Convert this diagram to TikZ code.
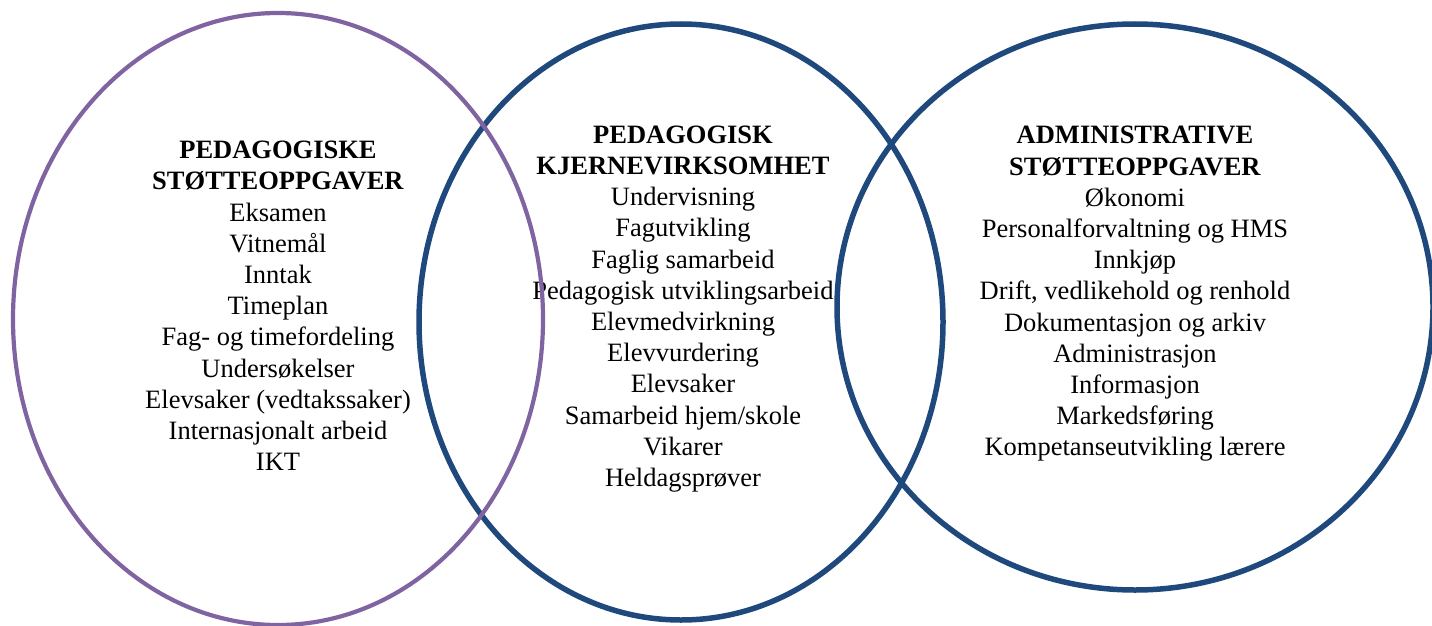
\documentclass[tikz,border=0pt]{standalone}
\usepackage{fontspec}
\setmainfont{Liberation Serif}
\definecolor{vpurple}{RGB}{128,100,162}
\definecolor{vblue}{RGB}{31,73,125}
\tikzset{
  ring/.style={draw, line width=5.5pt},
  block/.style={align=center, inner sep=0pt, font=\fontsize{26.5}{31.2}\selectfont}
}
\begin{document}
\begin{tikzpicture}[x=1pt,y=1pt]
\useasboundingbox (0,0) rectangle (1432,-626);
\node[block] (ltext) at (278,-306) {\textbf{PEDAGOGISKE}\\\textbf{STØTTEOPPGAVER}\\Eksamen\\Vitnemål\\Inntak\\Timeplan\\Fag- og timefordeling\\Undersøkelser\\Elevsaker (vedtakssaker)\\Internasjonalt arbeid\\IKT};
\node[block] (mtext) at (683,-309) {\textbf{PEDAGOGISK}\\\textbf{KJERNEVIRKSOMHET}\\Undervisning\\Fagutvikling\\Faglig samarbeid\\Pedagogisk utviklingsarbeid\\Elevmedvirkning\\Elevvurdering\\Elevsaker\\Samarbeid hjem/skole\\Vikarer\\Heldagsprøver};
\node[block] (rtext) at (1135,-294) {\textbf{ADMINISTRATIVE}\\\textbf{STØTTEOPPGAVER}\\Økonomi\\Personalforvaltning og HMS\\Innkjøp\\Drift, vedlikehold og renhold\\Dokumentasjon og arkiv\\Administrasjon\\Informasjon\\Markedsføring\\Kompetanseutvikling lærere};
\coordinate (mid) at (681,-322);
\coordinate (right) at (1135,-307);
\coordinate (left) at (278,-319);
\draw[ring, draw=vblue] (mid) ellipse [x radius=262, y radius=298];
\draw[ring, draw=vblue] (right) ellipse [x radius=298, y radius=283];
\draw[ring, draw=vpurple, line width=4.2pt] (left) ellipse [x radius=265, y radius=306];
\end{tikzpicture}
\end{document}
